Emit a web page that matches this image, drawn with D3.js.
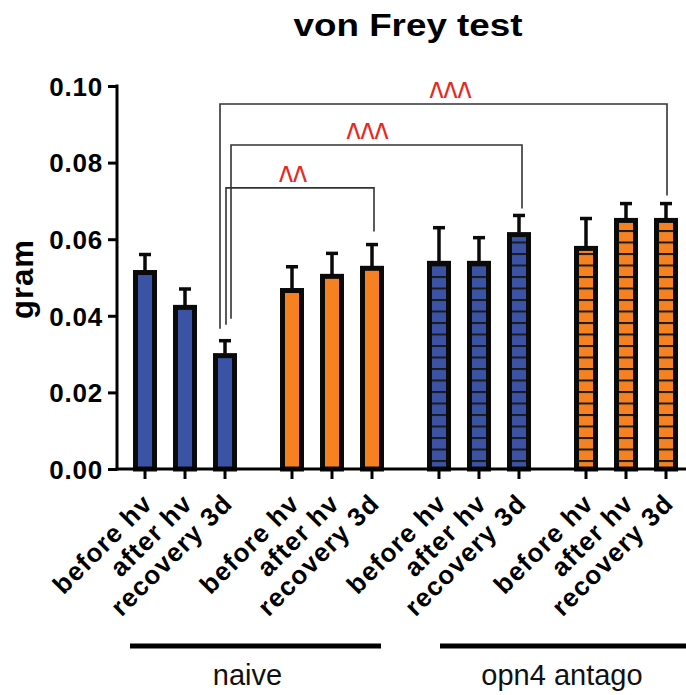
<!DOCTYPE html>
<html><head><meta charset="utf-8">
<script src="https://cdn.jsdelivr.net/npm/d3@7"></script>
<style>body{margin:0;background:#fff}svg{display:block}</style>
</head><body>
<svg id="c" width="686" height="695"></svg>
<script>
// ---- data ----
const title = "von Frey test";
const yLabel = "gram";
const conditions = ["before hv", "after hv", "recovery 3d"];
const groups = ["naive-blue", "naive-orange", "opn4-blue", "opn4-orange"];
const groupColors = ["#3a53a4", "#f68121", "#3a53a4", "#f68121"];
const groupStriped = [false, false, true, true];
const means = [
  [0.0513, 0.0422, 0.0296],
  [0.0466, 0.0503, 0.0524],
  [0.0537, 0.0537, 0.0612],
  [0.0576, 0.0649, 0.0649]
];
const sems = [
  [0.0047, 0.0048, 0.0039],
  [0.0062, 0.0060, 0.0062],
  [0.0093, 0.0067, 0.0050],
  [0.0078, 0.0044, 0.0044]
];
const yTicks = [0, 0.02, 0.04, 0.06, 0.08, 0.10];
const treatments = ["naive", "opn4 antago"];
const treatmentGroups = [[0, 1], [2, 3]];
const comparisons = [
  {from: [0, 2], to: [1, 2], label: "^^", level: 0.0734},
  {from: [0, 2], to: [2, 2], label: "^^^", level: 0.0846},
  {from: [0, 2], to: [3, 2], label: "^^^", level: 0.0953}
];

// ---- layout ----
const FONT = "Liberation Sans, Arial, sans-serif";
const svg = d3.select("#c");
const y = d3.scaleLinear().domain([0, 0.1]).range([469, 86]);
const x0 = d3.scaleBand().domain(groups).range([111.5, 699.5]).padding(0);
const x1 = d3.scaleBand().domain(conditions).range([0, x0.bandwidth()]).paddingInner(0).paddingOuter(0.3375);
const cx = (g, c) => x0(groups[g]) + x1(conditions[c]) + x1.bandwidth() / 2;
const barW = 19;

// patterns
const defs = svg.append("defs");
groups.forEach((g, i) => {
  if (!groupStriped[i]) return;
  const p = defs.append("pattern").attr("id", "stripe" + i)
    .attr("patternUnits", "userSpaceOnUse").attr("width", 20).attr("height", 11.5)
    .attr("y", 0);
  p.append("rect").attr("width", 20).attr("height", 11.5).attr("fill", groupColors[i]);
  p.append("rect").attr("y", 0).attr("width", 20).attr("height", 2).attr("fill", "#1b1b1b");
});

// title
svg.append("text").attr("x", 408).attr("y", 36).attr("text-anchor", "middle")
  .attr("font-family", FONT).attr("font-weight", "bold")
  .attr("font-size", 31).attr("textLength", 229).attr("lengthAdjust", "spacingAndGlyphs")
  .text(title);

// y axis
const yAxis = svg.append("g").attr("transform", "translate(117,0)")
  .call(d3.axisLeft(y).tickValues(yTicks).tickFormat(d3.format(".2f")).tickSize(9).tickSizeOuter(0).tickPadding(5));
yAxis.select(".domain").attr("stroke", "#000").attr("stroke-width", 3)
  .attr("d", `M0,${y(0.1) - 1.5}V${y(0) + 1.5}`);
yAxis.selectAll(".tick line").attr("stroke", "#000").attr("stroke-width", 3);
yAxis.selectAll(".tick text").attr("fill", "#000")
  .attr("font-family", FONT).attr("font-weight", "bold")
  .attr("font-size", 26).attr("letter-spacing", "0.8px").attr("dy", "0.36em");

svg.append("text").attr("transform", "translate(33,279) rotate(-90)").attr("text-anchor", "middle")
  .attr("font-family", FONT).attr("font-weight", "bold")
  .attr("font-size", 31).attr("letter-spacing", "1px").text(yLabel);

// bars
const flat = [];
groups.forEach((g, gi) => conditions.forEach((c, ci) => flat.push({gi, ci, m: means[gi][ci], s: sems[gi][ci]})));

svg.append("g").selectAll("rect").data(flat).join("rect")
  .attr("x", d => cx(d.gi, d.ci) - barW / 2)
  .attr("width", barW)
  .attr("y", d => y(d.m))
  .attr("height", d => y(0) - y(d.m))
  .attr("fill", d => groupStriped[d.gi] ? `url(#stripe${d.gi})` : groupColors[d.gi])
  .attr("stroke", "#0a0a0a").attr("stroke-width", 5);

// error bars
const eb = svg.append("g").attr("stroke", "#0a0a0a").attr("stroke-width", 3.5);
eb.selectAll("line.v").data(flat).join("line").attr("class", "v")
  .attr("x1", d => cx(d.gi, d.ci)).attr("x2", d => cx(d.gi, d.ci))
  .attr("y1", d => y(d.m) - 2).attr("y2", d => y(d.m + d.s));
eb.selectAll("line.c").data(flat).join("line").attr("class", "c")
  .attr("x1", d => cx(d.gi, d.ci) - 6).attr("x2", d => cx(d.gi, d.ci) + 6)
  .attr("y1", d => y(d.m + d.s)).attr("y2", d => y(d.m + d.s));

// x axis
const xa = svg.append("g");
xa.append("line").attr("x1", 115.5).attr("x2", 686).attr("y1", y(0)).attr("y2", y(0))
  .attr("stroke", "#000").attr("stroke-width", 3);
xa.selectAll("line.t").data(flat).join("line").attr("class", "t")
  .attr("x1", d => cx(d.gi, d.ci)).attr("x2", d => cx(d.gi, d.ci))
  .attr("y1", y(0)).attr("y2", y(0) + 10).attr("stroke", "#000").attr("stroke-width", 3);
xa.selectAll("text").data(flat).join("text")
  .attr("transform", d => `translate(${cx(d.gi, d.ci) + 9},505) rotate(-45)`)
  .attr("text-anchor", "end")
  .attr("font-family", FONT).attr("font-weight", "bold")
  .attr("font-size", 26).attr("letter-spacing", "1.2px")
  .text(d => conditions[d.ci]);

// treatment lines & labels
const lineOff = [[-15, 9], [1, 20]];
const labelShift = [-8, -1];
treatments.forEach((t, i) => {
  const gs = treatmentGroups[i];
  const xs = cx(gs[0], 0) + lineOff[i][0];
  const xe = cx(gs[gs.length - 1], conditions.length - 1) + lineOff[i][1];
  svg.append("line").attr("x1", xs).attr("x2", xe).attr("y1", 646).attr("y2", 646)
    .attr("stroke", "#000").attr("stroke-width", 5);
  svg.append("text").attr("x", (xs + xe) / 2 + labelShift[i]).attr("y", 685).attr("text-anchor", "middle")
    .attr("font-family", FONT).attr("font-size", 29)
    .attr("fill", "#111").text(t);
});

// significance brackets
const leftOff = [1, 6, -5];
const leftGap = [16, 22, 12];
const rightOff = [2, 3, 1];
const rightGap = [13, 7, 8];
const textOff = [-7, -9, 7];
const br = svg.append("g");
comparisons.forEach((cmp, i) => {
  const xl = cx(cmp.from[0], cmp.from[1]) + leftOff[i];
  const xr = cx(cmp.to[0], cmp.to[1]) + rightOff[i];
  const yl = y(means[cmp.from[0]][cmp.from[1]] + sems[cmp.from[0]][cmp.from[1]]) - leftGap[i];
  const yr = y(means[cmp.to[0]][cmp.to[1]] + sems[cmp.to[0]][cmp.to[1]]) - rightGap[i];
  const yb = y(cmp.level);
  br.append("path").attr("d", `M${xl},${yl}V${yb}H${xr}V${yr}`)
    .attr("fill", "none").attr("stroke", "#333").attr("stroke-width", 1.6);
  br.append("text")
    .attr("transform", `translate(${(xl + xr) / 2 + textOff[i]},${yb + 9}) scale(1,1.45)`)
    .attr("text-anchor", "middle").attr("font-family", FONT)
    .attr("font-size", 30).attr("fill", "#e8281e").text(cmp.label);
});
</script>
</body></html>
